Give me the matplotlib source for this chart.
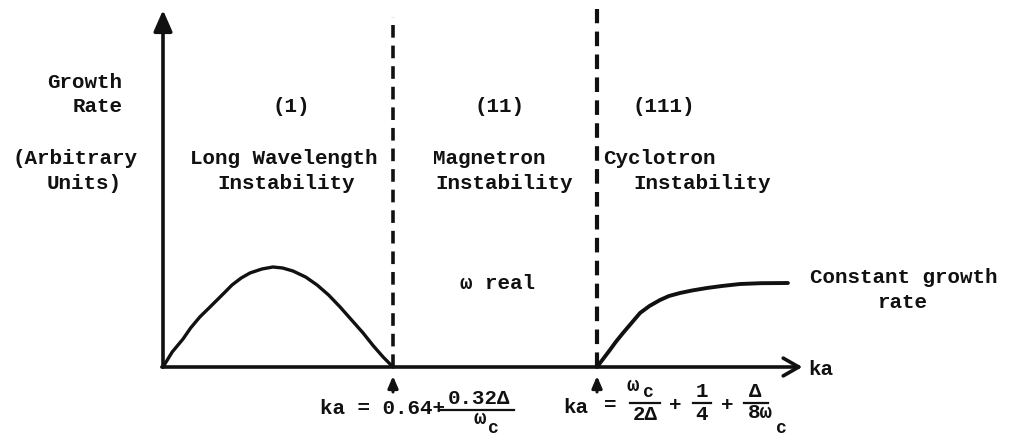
import matplotlib
matplotlib.use("Agg")
import matplotlib.pyplot as plt
from matplotlib.lines import Line2D

# growth-rate sketch, arbitrary units; region boundaries on the ka axis
boundary_ka = [1.0, 1.887]

# (1) long wavelength instability hump
long_ka = [0.0, 0.04, 0.087, 0.12, 0.16, 0.20, 0.235, 0.27, 0.30, 0.34, 0.378, 0.43,
           0.478, 0.52, 0.565, 0.62, 0.67, 0.72, 0.77, 0.82, 0.87, 0.915, 0.957, 1.0]
long_rate = [0.0, 0.15, 0.28, 0.39, 0.50, 0.59, 0.67, 0.75, 0.82, 0.89, 0.94, 0.98,
             1.0, 0.99, 0.96, 0.90, 0.82, 0.72, 0.60, 0.47, 0.34, 0.21, 0.10, 0.0]

# (111) cyclotron instability, levels off to a constant rate
cyc_ka = [1.887, 1.915, 1.943, 1.97, 2.0, 2.037, 2.074, 2.115, 2.161, 2.2, 2.248,
          2.30, 2.365, 2.43, 2.509, 2.6, 2.717]
cyc_rate = [0.0, 0.085, 0.17, 0.255, 0.34, 0.44, 0.54, 0.61, 0.67, 0.71, 0.74,
            0.765, 0.79, 0.81, 0.83, 0.838, 0.84]

axis_top = 3.57
axis_right = 2.78

W, H = 1019, 436
fig = plt.figure(figsize=(W / 100, H / 100), dpi=100)
ax = fig.add_axes([0, 0, 1, 1])
ax.set_xlim(-163 / 230, (W - 163) / 230)
ax.set_ylim(-(H - 367) / 100, 367 / 100)
ax.axis("off")

FONT = "Liberation Mono"
FS = 15
INK = "#111111"


def at(x, y):
    # pixel position (origin top-left) -> figure fraction
    return x / W, 1 - y / H


def label(x, y, s, size=FS, ha="left"):
    fx, fy = at(x, y)
    fig.text(fx, fy, s, ha=ha, va="center", fontsize=size, family=FONT,
             color=INK, fontweight="bold")


def bar(x0, x1, y):
    fx0, fy = at(x0, y)
    fx1, _ = at(x1, y)
    fig.add_artist(Line2D([fx0, fx1], [fy, fy], color=INK, lw=1.6))


# axes with arrow heads
ax.annotate("", xy=(0, axis_top), xytext=(0, 0),
            arrowprops=dict(arrowstyle="-|>,head_length=0.8,head_width=0.35",
                            color=INK, lw=2.6, shrinkA=0, shrinkB=0,
                            mutation_scale=16))
ax.annotate("", xy=(axis_right, 0), xytext=(-0.005, 0),
            arrowprops=dict(arrowstyle="->,head_length=0.7,head_width=0.4",
                            color=INK, lw=2.6, shrinkA=0, shrinkB=0,
                            mutation_scale=16))

# region boundaries
ax.plot([boundary_ka[0]] * 2, [0, 3.50], color=INK, lw=2.6, ls=(0, (3.5, 2.2)))
ax.plot([boundary_ka[1]] * 2, [0, 3.58], color=INK, lw=3.0, ls=(0, (3.5, 2.0)))

ax.plot(long_ka, long_rate, color=INK, lw=2.4, solid_capstyle="round",
        solid_joinstyle="round")
ax.plot(cyc_ka, cyc_rate, color=INK, lw=2.8, solid_capstyle="round",
        solid_joinstyle="round")

# little arrows marking the boundaries under the axis
for b in boundary_ka:
    ax.annotate("", xy=(b, -0.09), xytext=(b, -0.25),
                arrowprops=dict(arrowstyle="-|>,head_length=0.7,head_width=0.3",
                                color=INK, lw=2.2, shrinkA=0, shrinkB=0,
                                mutation_scale=10))

# y axis title
label(47, 82, "Growth")
label(73, 107, "Rate")
label(12, 158, "(Arbitrary")
label(47, 183, "Units)")

# region labels
label(272, 107, "(1)")
label(190, 158, "Long Wavelength")
label(217, 183, "Instability")
label(475, 107, "(11)")
label(433, 158, "Magnetron")
label(435, 183, "Instability")
label(460, 283, "\u03c9 real")
label(633, 107, "(111)")
label(603, 158, "Cyclotron")
label(633, 183, "Instability")
label(810, 277, "Constant growth")
label(877, 303, "rate")
label(808, 369, "ka")

# ka = 0.64 + 0.32 Delta / omega_c
label(320, 408, "ka = 0.64+")
label(479, 398, "0.32\u0394", ha="center")
bar(440, 514, 410)
label(480, 418, "\u03c9", ha="center")
label(493, 428, "c", size=13, ha="center")

# ka = omega_c / 2 Delta + 1/4 + Delta / 8 omega_c
label(563, 407, "ka")
label(610, 405, "=", ha="center")
label(633, 385, "\u03c9", ha="center")
label(648, 392, "c", size=13, ha="center")
bar(630, 660, 403)
label(645, 414, "2\u0394", ha="center")
label(675, 405, "+", ha="center")
label(702, 391, "1", ha="center")
bar(693, 711, 403)
label(702, 414, "4", ha="center")
label(727, 405, "+", ha="center")
label(755, 391, "\u0394", ha="center")
bar(744, 768, 403)
label(760, 412, "8\u03c9", ha="center")
label(781, 428, "c", size=13, ha="center")

fig.savefig("out.png", dpi=100, facecolor="white")
